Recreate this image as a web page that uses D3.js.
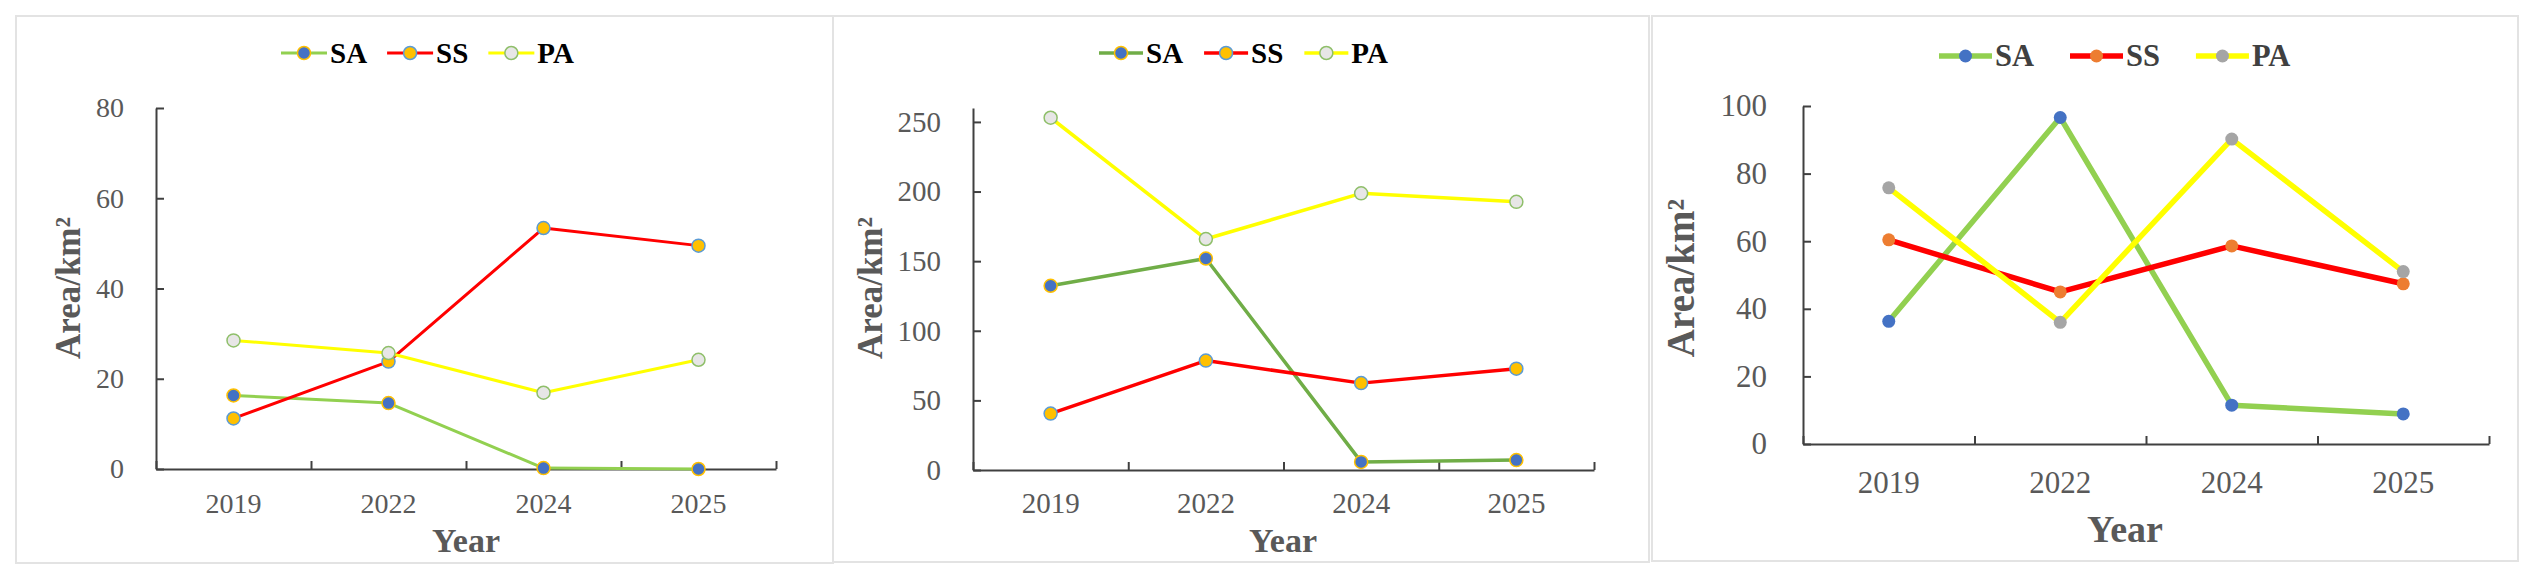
<!DOCTYPE html>
<html>
<head>
<meta charset="utf-8">
<script src="https://cdn.jsdelivr.net/npm/d3@7"></script>
<style>
  body { margin: 0; background: #fff; }
  text { font-family: "Liberation Serif", "Times New Roman", serif; }
</style>
</head>
<body>
<div id="chart"></div>
<script>
// categories and series
var years = ["2019", "2022", "2024", "2025"];
var seriesNames = ["SA", "SS", "PA"];

// panel 1
var p1SA = [16.3, 14.6, 0.2, 0];
var p1SS = [11.2, 23.8, 53.4, 49.5];
var p1PA = [28.5, 25.7, 16.9, 24.2];
var p1Ticks = [0, 20, 40, 60, 80];

// panel 2
var p2SA = [132.3, 151.9, 5.8, 7.1];
var p2SS = [40.5, 78.6, 62.4, 72.8];
var p2PA = [253, 165.9, 198.7, 192.6];
var p2Ticks = [0, 50, 100, 150, 200, 250];

// panel 3
var p3SA = [36.3, 96.6, 11.5, 8.9];
var p3SS = [60.4, 45, 58.6, 47.4];
var p3PA = [75.8, 36, 90.2, 51];
var p3Ticks = [0, 20, 40, 60, 80, 100];

var yMax = [80, 260, 100];
var yTitle = "Area/km²";
var xTitle = "Year";

var svg = d3.select("#chart")
  .append("svg")
    .attr("width", 2533)
    .attr("height", 575);

// layout + styles for each panel
var panels = [
  { box: [16, 16, 833, 563], x0: 156, x1: 776, y0: 469, y1: 108,
    values: [p1SA, p1SS, p1PA], ticks: p1Ticks, max: yMax[0],
    lineColors: ["#92D050", "#FF0000", "#FFFF00"],
    fill: ["#4472C4", "#FFC000", "#E7E6E6"], stroke: ["#FFC000", "#5B9BD5", "#8FBF6A"],
    lineW: 3, r: 6.5, tickFont: 28, labPad: 32, xLabBase: 44,
    yTitle: { x: 68, y: 288, size: 35 }, xTitle: { x: 466, y: 552, size: 34 },
    legend: { x: 281, y: 53, len: 46, gap: 20, size: 29, color: "#000" } },
  { box: [833, 16, 1649, 562], x0: 973, x1: 1594, y0: 470, y1: 108,
    values: [p2SA, p2SS, p2PA], ticks: p2Ticks, max: yMax[1],
    lineColors: ["#70AD47", "#FF0000", "#FFFF00"],
    fill: ["#4472C4", "#FFC000", "#E7E6E6"], stroke: ["#FFC000", "#5B9BD5", "#8FBF6A"],
    lineW: 3.5, r: 6.5, tickFont: 29, labPad: 32, xLabBase: 43,
    yTitle: { x: 870, y: 288, size: 35 }, xTitle: { x: 1283, y: 552, size: 34 },
    legend: { x: 1099, y: 53, len: 44, gap: 21, size: 29, color: "#000" } },
  { box: [1652, 16, 2518, 561], x0: 1803, x1: 2489, y0: 444, y1: 106,
    values: [p3SA, p3SS, p3PA], ticks: p3Ticks, max: yMax[2],
    lineColors: ["#92D050", "#FF0000", "#FFFF00"],
    fill: ["#4472C4", "#ED7D31", "#A5A5A5"], stroke: [null, null, null],
    lineW: 5.5, r: 6.5, tickFont: 31, labPad: 36, xLabBase: 49,
    yTitle: { x: 1680, y: 278, size: 39 }, xTitle: { x: 2125, y: 542, size: 38 },
    legend: { x: 1939, y: 56, len: 53, gap: 36, size: 30.5, color: "#404040" } }
];

panels.forEach(function(p) {
  var g = svg.append("g");

  // panel frame
  g.append("rect")
    .attr("x", p.box[0]).attr("y", p.box[1])
    .attr("width", p.box[2] - p.box[0]).attr("height", p.box[3] - p.box[1])
    .attr("fill", "none")
    .attr("stroke", "#E3E3E3")
    .attr("stroke-width", 2);

  var x = d3.scaleBand().domain(years).range([p.x0, p.x1]).padding(0);
  var xEdge = d3.scaleLinear().domain([0, years.length]).range([p.x0, p.x1]);
  var y = d3.scaleLinear().domain([0, p.max]).range([p.y0, p.y1]);

  // Y axis
  var yAx = g.append("g")
    .attr("transform", "translate(" + p.x0 + ",0)")
    .call(d3.axisLeft(y).tickValues(p.ticks).tickSize(-8).tickSizeOuter(0).tickPadding(p.labPad));
  yAx.selectAll("path, line").attr("stroke", "#404040").attr("stroke-width", 2);
  yAx.selectAll("text")
    .attr("fill", "#595959")
    .style("font-size", p.tickFont + "px");

  // X axis: line and boundary ticks
  var xAx = g.append("g")
    .attr("transform", "translate(0," + p.y0 + ")")
    .call(d3.axisBottom(xEdge).tickValues(d3.range(years.length + 1)).tickSize(-8).tickSizeOuter(0).tickFormat(""));
  xAx.selectAll("path, line").attr("stroke", "#404040").attr("stroke-width", 2);

  // X labels at band centres
  var xLab = g.append("g")
    .attr("transform", "translate(0," + p.y0 + ")")
    .call(d3.axisBottom(x).tickSize(0));
  xLab.select(".domain").remove();
  xLab.selectAll("text")
    .attr("y", p.xLabBase)
    .attr("dy", null)
    .attr("fill", "#595959")
    .style("font-size", p.tickFont + "px");

  // lines + markers
  var line = d3.line()
    .x(function(d, i) { return x(years[i]) + x.bandwidth() / 2; })
    .y(function(d) { return y(d); });

  p.values.forEach(function(vals, s) {
    g.append("path")
      .datum(vals)
      .attr("fill", "none")
      .attr("stroke", p.lineColors[s])
      .attr("stroke-width", p.lineW)
      .attr("stroke-linejoin", "round")
      .attr("d", line);

    g.selectAll(".m" + s)
      .data(vals)
      .enter().append("circle")
      .attr("class", "m" + s)
      .attr("cx", function(d, i) { return x(years[i]) + x.bandwidth() / 2; })
      .attr("cy", function(d) { return y(d); })
      .attr("r", p.r)
      .attr("fill", p.fill[s])
      .attr("stroke", p.stroke[s] || "none")
      .attr("stroke-width", 1.5);
  });

  // axis titles
  g.append("text")
    .attr("text-anchor", "middle")
    .attr("dominant-baseline", "central")
    .attr("transform", "translate(" + p.yTitle.x + "," + p.yTitle.y + ") rotate(-90)")
    .attr("fill", "#595959")
    .style("font-weight", "bold")
    .style("font-size", p.yTitle.size + "px")
    .text(yTitle);

  g.append("text")
    .attr("text-anchor", "middle")
    .attr("x", p.xTitle.x)
    .attr("y", p.xTitle.y)
    .attr("fill", "#595959")
    .style("font-weight", "bold")
    .style("font-size", p.xTitle.size + "px")
    .text(xTitle);

  // legend
  var lx = p.legend.x;
  seriesNames.forEach(function(name, s) {
    var item = g.append("g");
    item.append("line")
      .attr("x1", lx).attr("x2", lx + p.legend.len)
      .attr("y1", p.legend.y).attr("y2", p.legend.y)
      .attr("stroke", p.lineColors[s])
      .attr("stroke-width", p.lineW);
    item.append("circle")
      .attr("cx", lx + p.legend.len / 2).attr("cy", p.legend.y)
      .attr("r", p.r)
      .attr("fill", p.fill[s])
      .attr("stroke", p.stroke[s] || "none")
      .attr("stroke-width", 1.5);
    var t = item.append("text")
      .attr("x", lx + p.legend.len + 3)
      .attr("y", p.legend.y)
      .attr("dominant-baseline", "central")
      .attr("fill", p.legend.color)
      .style("font-weight", "bold")
      .style("font-size", p.legend.size + "px")
      .text(name);
    lx = lx + p.legend.len + 3 + t.node().getComputedTextLength() + p.legend.gap;
  });
});
</script>
</body>
</html>
